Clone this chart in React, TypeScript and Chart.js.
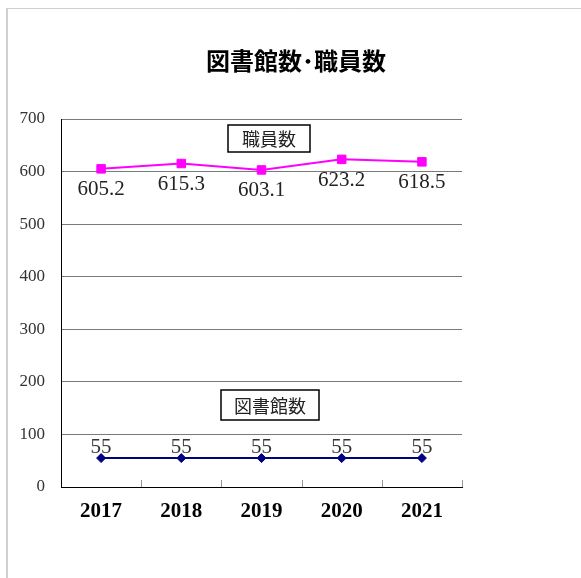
import React, { useEffect, useRef } from "react";
import { Chart, registerables } from "chart.js";

Chart.register(...registerables);

const chartTitle = "図書館数･職員数";
const categories = ["2017", "2018", "2019", "2020", "2021"];
const staffName = "職員数";
const libraryName = "図書館数";
const staffValues = [605.2, 615.3, 603.1, 623.2, 618.5];
const libraryValues = [55, 55, 55, 55, 55];
const yMin = 0;
const yMax = 700;
const yStep = 100;

const decorPlugin = {
  id: "decor",
  beforeDraw(chart: any) {
    const { ctx, width, height } = chart;
    ctx.save();
    ctx.fillStyle = "#ffffff";
    ctx.fillRect(0, 0, width, height);
    ctx.strokeStyle = "#d0d0d0";
    ctx.lineWidth = 2;
    ctx.beginPath();
    ctx.moveTo(7, 8);
    ctx.lineTo(7, height);
    ctx.stroke();
    ctx.lineWidth = 1;
    ctx.beginPath();
    ctx.moveTo(6, 8.5);
    ctx.lineTo(width, 8.5);
    ctx.stroke();
    // title
    ctx.fillStyle = "#000";
    ctx.font = "bold 24px 'Noto Sans CJK JP'";
    ctx.textAlign = "center";
    ctx.textBaseline = "middle";
    ctx.fillText(chartTitle, 296, 61);
    ctx.restore();
  },
  afterDraw(chart: any) {
    const { ctx, chartArea } = chart;
    const { left, right, top, bottom } = chartArea;
    ctx.save();
    // inner tick marks at category boundaries
    ctx.strokeStyle = "#999";
    ctx.lineWidth = 1;
    const n = categories.length;
    for (let i = 1; i <= n; i++) {
      const x = Math.round(left + (i * (right - left)) / n) + 0.5;
      ctx.beginPath();
      ctx.moveTo(x, bottom - 7);
      ctx.lineTo(x, bottom);
      ctx.stroke();
    }
    // data labels
    const staffMeta = chart.getDatasetMeta(0);
    const libMeta = chart.getDatasetMeta(1);
    ctx.fillStyle = "#222";
    ctx.font = "21px 'Liberation Serif'";
    ctx.textAlign = "center";
    ctx.textBaseline = "middle";
    staffMeta.data.forEach((pt: any, i: number) => {
      ctx.fillText(staffValues[i].toFixed(1), pt.x, pt.y + 21);
    });
    ctx.fillStyle = "#333";
    libMeta.data.forEach((pt: any, i: number) => {
      ctx.fillText(String(libraryValues[i]), pt.x, pt.y - 11);
    });
    // series name boxes
    const boxes = [
      { text: staffName, x: left + 167, y: top + 6, w: 82, h: 27 },
      { text: libraryName, x: left + 160, y: top + 271, w: 98, h: 30 },
    ];
    boxes.forEach((b) => {
      ctx.fillStyle = "#fff";
      ctx.fillRect(b.x, b.y, b.w, b.h);
      ctx.strokeStyle = "#000";
      ctx.lineWidth = 1.5;
      ctx.strokeRect(b.x, b.y, b.w, b.h);
      ctx.fillStyle = "#222";
      ctx.font = "18px 'Noto Sans CJK JP'";
      ctx.fillText(b.text, b.x + b.w / 2, b.y + b.h / 2 + 1);
    });
    ctx.restore();
  },
};

export default function App() {
  const ref = useRef<HTMLCanvasElement>(null);
  useEffect(() => {
    if (!ref.current) return;
    const chart = new Chart(ref.current, {
      type: "line",
      data: {
        labels: categories,
        datasets: [
          {
            label: staffName,
            data: staffValues,
            borderColor: "#ff00ff",
            backgroundColor: "#ff00ff",
            borderWidth: 2,
            pointStyle: "rect",
            pointRadius: 6,
            pointBorderWidth: 1,
            pointBorderColor: "#ff00ff",
            pointBackgroundColor: "#ff00ff",
          },
          {
            label: libraryName,
            data: libraryValues,
            borderColor: "#000080",
            backgroundColor: "#000080",
            borderWidth: 2,
            pointStyle: "rectRot",
            pointRadius: 4.5,
            pointBorderWidth: 1,
            pointBorderColor: "#000080",
            pointBackgroundColor: "#000080",
          },
        ],
      },
      options: {
        animation: false,
        responsive: false,
        maintainAspectRatio: false,
        layout: { padding: { left: 0, top: 119, right: 119, bottom: 51 } },
        plugins: {
          legend: { display: false },
          title: { display: false },
          tooltip: { enabled: false },
        },
        scales: {
          x: {
            type: "category",
            offset: true,
            grid: { display: false, drawTicks: false },
            border: { display: true, color: "#000", width: 1 },
            ticks: {
              padding: 12,
              color: "#000",
              font: { family: "'Liberation Serif'", size: 21, weight: "bold" },
            },
            afterFit(scale: any) {
              scale.height = 40;
            },
          },
          y: {
            min: yMin,
            max: yMax,
            ticks: {
              stepSize: yStep,
              padding: 16,
              color: "#333",
              font: { family: "'Liberation Serif'", size: 17 },
            },
            grid: { color: "#7a7a7a", lineWidth: 1, drawTicks: false },
            border: { display: true, color: "#000", width: 1 },
            afterFit(scale: any) {
              scale.width = 61;
            },
          },
        },
      },
      plugins: [decorPlugin],
    });
    return () => chart.destroy();
  }, []);
  return (
    <div style={{ position: "fixed", left: 0, top: 0, width: 581, height: 578 }}>
      <canvas ref={ref} width={581} height={578} style={{ display: "block" }} />
    </div>
  );
}
